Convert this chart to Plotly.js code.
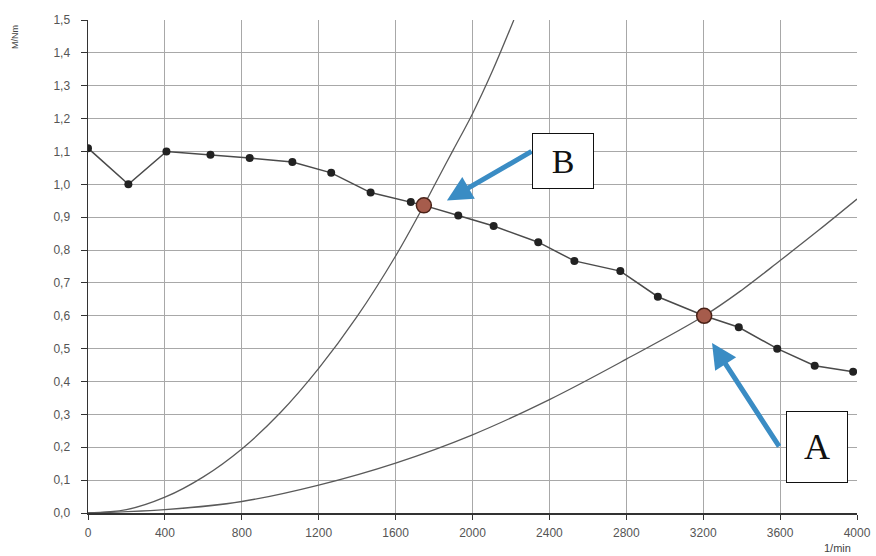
<!DOCTYPE html>
<html>
<head>
<meta charset="utf-8">
<script src="https://cdn.plot.ly/plotly-3.0.1.min.js"></script>
<style>
html,body{margin:0;padding:0;background:#fff;}
#chart{width:876px;height:556px;}
</style>
</head>
<body>
<div id="chart"></div>
<script>
// Torque curve (M/Nm vs 1/min)
const torqueRpm = [0, 210, 408, 637, 841, 1063, 1265, 1470, 1679, 1747, 1926, 2110, 2342, 2530, 2769, 2964, 3205, 3385, 3585, 3780, 3980];
const torqueVal = [1.11, 1.00, 1.10, 1.09, 1.08, 1.068, 1.035, 0.975, 0.946, 0.936, 0.905, 0.873, 0.824, 0.767, 0.736, 0.658, 0.600, 0.565, 0.500, 0.448, 0.430];
const markerRpm = [0, 210, 408, 637, 841, 1063, 1265, 1470, 1679, 1926, 2110, 2342, 2530, 2769, 2964, 3385, 3585, 3780, 3980];
const markerVal = [1.11, 1.00, 1.10, 1.09, 1.08, 1.068, 1.035, 0.975, 0.946, 0.905, 0.873, 0.824, 0.767, 0.736, 0.658, 0.565, 0.500, 0.448, 0.430];

// Load curve B (steep)
const curveBRpm = [0, 200, 400, 600, 800, 1000, 1200, 1400, 1600, 1747, 1800, 1900, 2000, 2100, 2215];
const curveBVal = [0.0, 0.01, 0.048, 0.11, 0.195, 0.305, 0.44, 0.598, 0.782, 0.936, 0.995, 1.105, 1.215, 1.34, 1.5];

// Load curve A (flat)
const curveARpm = [0, 400, 800, 1200, 1600, 2000, 2400, 2800, 3205, 3400, 3600, 3800, 4000];
const curveAVal = [0.0, 0.01, 0.035, 0.085, 0.152, 0.238, 0.345, 0.468, 0.600, 0.678, 0.768, 0.860, 0.955];

// Operating points
const opLabels = ["B", "A"];
const opRpm = [1747, 3205];
const opVal = [0.936, 0.600];

// Axis ticks
const xTickVals = [0, 400, 800, 1200, 1600, 2000, 2400, 2800, 3200, 3600, 4000];
const xTickText = ["0", "400", "800", "1200", "1600", "2000", "2400", "2800", "3200", "3600", "4000"];
const yTickVals = [0, 0.1, 0.2, 0.3, 0.4, 0.5, 0.6, 0.7, 0.8, 0.9, 1.0, 1.1, 1.2, 1.3, 1.4, 1.5];
const yTickText = ["0,0", "0,1", "0,2", "0,3", "0,4", "0,5", "0,6", "0,7", "0,8", "0,9", "1,0", "1,1", "1,2", "1,3", "1,4", "1,5"];

const traces = [
  {x: curveBRpm, y: curveBVal, mode: "lines", line: {color: "#5a5a5a", width: 1.3, shape: "spline", smoothing: 1}, hoverinfo: "skip"},
  {x: curveARpm, y: curveAVal, mode: "lines", line: {color: "#5a5a5a", width: 1.3, shape: "spline", smoothing: 1}, hoverinfo: "skip"},
  {x: torqueRpm, y: torqueVal, mode: "lines", line: {color: "#4a4a4a", width: 1.5}},
  {x: markerRpm, y: markerVal, mode: "markers", marker: {color: "#222", size: 8, symbol: "circle"}},
  {x: opRpm, y: opVal, mode: "markers", text: opLabels,
   marker: {color: "#a65c4c", size: 15, line: {color: "#4a2218", width: 1.5}}}
];

const arrowColor = "#3a8cc4";
const annotations = [
  // arrows
  {x: 1867, y: 0.951, ax: 2315, ay: 1.103, axref: "x", ayref: "y", xref: "x", yref: "y",
   text: "", showarrow: true, arrowhead: 2, arrowsize: 1, arrowwidth: 5, arrowcolor: arrowColor},
  {x: 3246, y: 0.517, ax: 3600, ay: 0.198, axref: "x", ayref: "y", xref: "x", yref: "y",
   text: "", showarrow: true, arrowhead: 2, arrowsize: 1, arrowwidth: 5, arrowcolor: arrowColor},
  // label boxes
  {x: 2471, y: 1.07, xref: "x", yref: "y", text: opLabels[0], showarrow: false,
   font: {family: "Liberation Serif, serif", size: 34, color: "#111"},
   bgcolor: "#fff", bordercolor: "#111", borderwidth: 1, width: 58, height: 52, align: "center", valign: "middle"},
  {x: 3792, y: 0.202, xref: "x", yref: "y", text: opLabels[1], showarrow: false,
   font: {family: "Liberation Serif, serif", size: 36, color: "#111"},
   bgcolor: "#fff", bordercolor: "#111", borderwidth: 1, width: 58, height: 68, align: "center", valign: "middle"},
  // axis titles
  {x: 15, y: 37, xref: "paper", yref: "paper", text: "M/Nm", showarrow: false, textangle: -90,
   xanchor: "center", yanchor: "middle",
   font: {family: "Liberation Sans, Arial, sans-serif", size: 9, color: "#444"}},
  {x: 837, y: 548, xref: "paper", yref: "paper", text: "1/min", showarrow: false,
   xanchor: "center", yanchor: "middle",
   font: {family: "Liberation Sans, Arial, sans-serif", size: 11, color: "#444"}}
];
// convert pixel positions of the axis-title annotations to paper coords
const W = 876, H = 556, L = 88, R = 19, T = 20, B = 43;
annotations.forEach(a => {
  if (a.xref === "paper") {
    a.x = (a.x - L) / (W - L - R);
    a.y = 1 - (a.y - T) / (H - T - B);
  }
});

const layout = {
  width: W, height: H,
  margin: {l: L, r: R, t: T, b: B},
  paper_bgcolor: "#fff", plot_bgcolor: "#fff",
  showlegend: false,
  font: {family: "Liberation Sans, Arial, sans-serif", size: 12, color: "#555"},
  xaxis: {
    range: [0, 4000], tickmode: "array", tickvals: xTickVals, ticktext: xTickText,
    showgrid: true, gridcolor: "#a8a8a8", gridwidth: 1,
    showline: true, linecolor: "#333", linewidth: 1.5,
    ticks: "outside", ticklen: 5, tickcolor: "#333", ticklabelstandoff: 3,
    zeroline: false, fixedrange: true
  },
  yaxis: {
    range: [0, 1.5], tickmode: "array", tickvals: yTickVals, ticktext: yTickText,
    showgrid: true, gridcolor: "#a8a8a8", gridwidth: 1,
    showline: true, linecolor: "#333", linewidth: 1.5,
    ticks: "outside", ticklen: 6, tickcolor: "#333", ticklabelstandoff: 8,
    zeroline: false, fixedrange: true
  },
  annotations: annotations
};

Plotly.newPlot("chart", traces, layout, {displayModeBar: false, staticPlot: true});
</script>
</body>
</html>
